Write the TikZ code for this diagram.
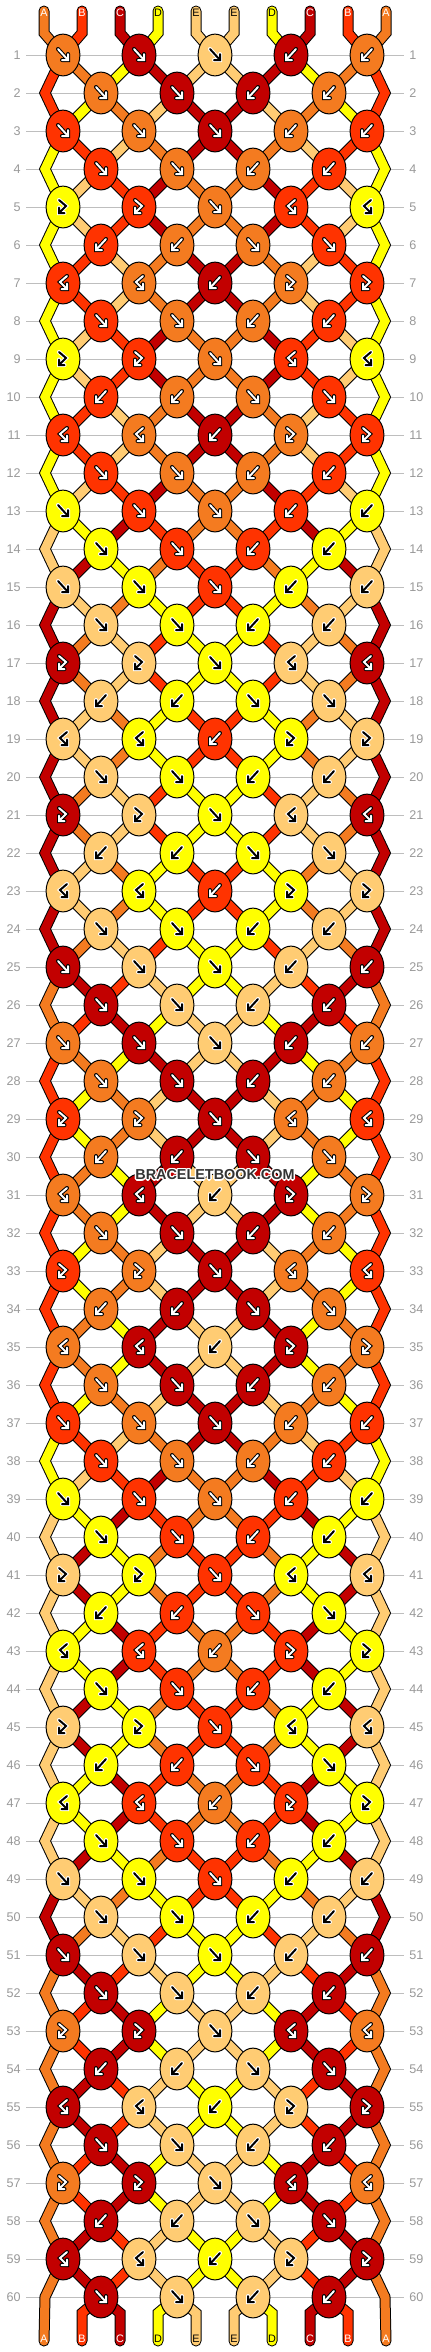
\documentclass[tikz,border=0pt]{standalone}
\usepackage{fontspec}
\setmainfont{Liberation Sans}
\usetikzlibrary{shapes.geometric}
\definecolor{cA}{HTML}{F47B20}
\definecolor{cB}{HTML}{FF3300}
\definecolor{cC}{HTML}{C20000}
\definecolor{cD}{HTML}{FFFF00}
\definecolor{cE}{HTML}{FFCC73}
\definecolor{numgray}{HTML}{999999}
\definecolor{linegray}{HTML}{BEBEBE}
\definecolor{wmark}{HTML}{333333}
% arrow colours per string
\expandafter\def\csname AC-A\endcsname{white}\expandafter\def\csname OC-A\endcsname{black}
\expandafter\def\csname AC-B\endcsname{white}\expandafter\def\csname OC-B\endcsname{black}
\expandafter\def\csname AC-C\endcsname{white}\expandafter\def\csname OC-C\endcsname{black}
\expandafter\def\csname AC-D\endcsname{black}\expandafter\def\csname OC-D\endcsname{white}
\expandafter\def\csname AC-E\endcsname{black}\expandafter\def\csname OC-E\endcsname{white}
% ---- simulation of the strings ----
\def\setS#1#2{\expandafter\xdef\csname s-#1\endcsname{#2}}
\def\getS#1{\csname s-#1\endcsname}
\def\setG#1#2{\expandafter\xdef\csname #1\endcsname{#2}}
\setS{1}{A}\setS{2}{B}\setS{3}{C}\setS{4}{D}\setS{5}{E}%
\setS{6}{E}\setS{7}{D}\setS{8}{C}\setS{9}{B}\setS{10}{A}%
\def\tf{f}\def\tb{b}\def\tfb{fb}\def\tbf{bf}
\def\defT#1#2#3{\expandafter\def\csname T-#1-#2\endcsname{#3}}
\defT{Fo}{1}{f}\defT{Fo}{2}{f}\defT{Fo}{3}{f}\defT{Fo}{4}{b}\defT{Fo}{5}{b}
\defT{Fe}{1}{f}\defT{Fe}{2}{f}\defT{Fe}{3}{b}\defT{Fe}{4}{b}
\defT{Q}{1}{fb}\defT{Q}{2}{fb}\defT{Q}{3}{f}\defT{Q}{4}{bf}\defT{Q}{5}{bf}
\defT{S}{1}{bf}\defT{S}{2}{bf}\defT{S}{3}{b}\defT{S}{4}{fb}\defT{S}{5}{fb}
\defT{R}{1}{b}\defT{R}{2}{b}\defT{R}{3}{f}\defT{R}{4}{f}
\def\doknot#1#2#3#4{%
  \edef\tL{\getS{#3}}\edef\tR{\getS{#4}}%
  \edef\tT{\csname T-\rcode-#2\endcsname}%
  \setG{KT-#1-#2}{\tT}%
  \ifx\tT\tf \setG{KC-#1-#2}{\tL}\setS{#3}{\tR}\setS{#4}{\tL}%
  \else\ifx\tT\tb \setG{KC-#1-#2}{\tR}\setS{#3}{\tR}\setS{#4}{\tL}%
  \else\ifx\tT\tfb \setG{KC-#1-#2}{\tL}%
  \else \setG{KC-#1-#2}{\tR}%
  \fi\fi\fi}
\def\rowcodes{Fo,Fe,Fo,Fe,Q,R,S,Fe,Q,R,S,Fe,Fo,Fe,Fo,Fe,Q,R,S,Fe,Q,R,S,Fe,Fo,Fe,Fo,Fe,Q,R,S,Fe,Q,R,S,Fe,Fo,Fe,Fo,Fe,Q,R,S,Fe,Q,R,S,Fe,Fo,Fe,Fo,Fe,Q,R,S,Fe,Q,R,S,Fe}
\newcount\simr \simr=0
\foreach \rcode in \rowcodes {%
  \global\advance\simr by 1
  \edef\rnum{\the\simr}%
  \foreach \p in {1,...,10}{\setG{SG-\rnum-\p}{\getS{\p}}}%
  \ifodd\simr
    \foreach \k in {1,...,5}{\pgfmathtruncatemacro\posL{2*\k-1}\pgfmathtruncatemacro\posR{2*\k}\doknot{\rnum}{\k}{\posL}{\posR}}%
  \else
    \foreach \k in {1,...,4}{\pgfmathtruncatemacro\posL{2*\k}\pgfmathtruncatemacro\posR{2*\k+1}\doknot{\rnum}{\k}{\posL}{\posR}}%
  \fi
}
\foreach \p in {1,...,10}{\setG{SG-61-\p}{\getS{\p}}}
% x of the point where position #2 sits in row #1
\def\ptx#1#2#3{%
  \ifodd#1\relax
    \pgfmathtruncatemacro#3{76*int((#2+1)/2)-13}%
  \else
    \ifnum#2=1 \def#3{45}%
    \else\ifnum#2=10 \def#3{385}%
    \else\pgfmathtruncatemacro#3{76*int(#2/2)+25}%
    \fi\fi
  \fi}
\newcommand\strand[2]{\draw[strO] #1;\draw[strI,draw=#2] #1;}
\def\icon#1{\draw[arrO,draw=\oc] #1; \draw[arrI,draw=\ac] #1;}
\def\AIf{\icon{(-5,-6)--(5,5) (5,-1)--(5,5)--(-1,5)}}
\def\AIb{\icon{(5,-6)--(-5,5) (-5,-1)--(-5,5)--(1,5)}}
\def\AIfb{\icon{(-4,-7)--(3,-1)--(-4,6) (-4,0.5)--(-4,6)--(1.5,6)}}
\def\AIbf{\icon{(4,-7)--(-3,-1)--(4,6) (4,0.5)--(4,6)--(-1.5,6)}}
\def\wmtext{BRACELETBOOK.COM}
\begin{document}
\begin{tikzpicture}[x=0.5pt,y=-0.5pt,
  strO/.style={draw=black,line width=5.5pt,line cap=round,line join=miter},
  strI/.style={line width=4.5pt,line cap=round,line join=miter},
  knotS/.style={ellipse,draw=black,line width=0.5pt,minimum width=16.9pt,minimum height=20.9pt,inner sep=0pt},
  rowlineS/.style={draw=linegray,line width=0.5pt},
  rownumS/.style={text=numgray,font=\fontsize{6.3pt}{7pt}\selectfont,inner sep=0pt},
  stubS/.style={font=\fontsize{5.4pt}{6pt}\selectfont,inner sep=0pt},
  arrO/.style={line width=2pt,line cap=round,line join=miter},
  arrI/.style={line width=1pt,line cap=round,line join=miter},
  wmS/.style={font=\bfseries\fontsize{7.2pt}{8pt}\selectfont,inner sep=0pt}]
\useasboundingbox (0,0) rectangle (430,2352);
\fill[white] (0,0) rectangle (430,2352);
% row guide lines and numbers
\foreach \ri in {1,...,60}{%
  \pgfmathtruncatemacro\yy{38*\ri+17}%
  \draw[rowlineS] (26,\yy) coordinate (L\ri) -- (404,\yy) coordinate (R\ri);
  \node[rownumS,anchor=east] (nl\ri) at (21,\yy) {\ri};
  \node[rownumS,anchor=west] (nr\ri) at (409,\yy) {\ri};
}
% top stubs
\foreach \p in {1,...,10}{%
  \pgfmathtruncatemacro\xs{38*\p+6}%
  \edef\scol{c\csname SG-1-\p\endcsname}%
  \ptx{1}{\p}{\xb}%
  \strand{(\xs,11) -- (\xs,33) -- (\xb,55)}{\scol}%
}
% strand segments
\foreach \ri in {2,...,60}{%
  \pgfmathtruncatemacro\rp{\ri-1}%
  \pgfmathtruncatemacro\rn{\ri+1}%
  \pgfmathtruncatemacro\ya{38*\rp+17}%
  \pgfmathtruncatemacro\yb{38*\ri+17}%
  \pgfmathtruncatemacro\yc{38*\rn+17}%
  \foreach \p in {1,...,10}{%
    \edef\scol{c\csname SG-\ri-\p\endcsname}%
    \ptx{\rp}{\p}{\xa}\ptx{\ri}{\p}{\xb}%
    \def\edge{0}\ifnum\p=1 \def\edge{1}\fi\ifnum\p=10 \def\edge{1}\fi
    \ifnum\edge=0
      \strand{(\xa,\ya) -- (\xb,\yb)}{\scol}%
    \else
      \ifodd\ri\relax\else
        \ifnum\ri<60
          \ptx{\rn}{\p}{\xc}%
          \strand{(\xa,\ya) -- (\xb,\yb) -- (\xc,\yc)}{\scol}%
        \else
          \pgfmathtruncatemacro\xs{38*\p+6}%
          \strand{(\xa,\ya) -- (\xb,\yb) -- (\xs,2341)}{\scol}%
        \fi
      \fi
    \fi
  }%
}
% bottom stubs
\foreach \p in {2,...,9}{%
  \pgfmathtruncatemacro\xs{38*\p+6}%
  \edef\scol{c\csname SG-61-\p\endcsname}%
  \ptx{60}{\p}{\xa}%
  \strand{(\xa,2297) -- (\xs,2313) -- (\xs,2341)}{\scol}%
}
% knots
\foreach \ri in {1,...,60}{%
  \ifodd\ri\relax\def\nk{5}\else\def\nk{4}\fi
  \pgfmathtruncatemacro\ky{38*\ri+17}%
  \foreach \k in {1,...,\nk}{%
    \edef\kc{\csname KC-\ri-\k\endcsname}%
    \edef\kt{\csname KT-\ri-\k\endcsname}%
    \edef\kfill{c\kc}%
    \edef\ac{\csname AC-\kc\endcsname}\edef\oc{\csname OC-\kc\endcsname}%
    \ifodd\ri\relax\pgfmathtruncatemacro\kx{76*\k-13}\else\pgfmathtruncatemacro\kx{76*\k+25}\fi
    \node[knotS,fill=\kfill] (k\ri-\k) at (\kx,\ky) {};
    \begin{scope}[shift={(k\ri-\k.center)}]\csname AI\kt\endcsname\end{scope}
  }%
}
% stub labels
\foreach \p in {1,...,10}{%
  \pgfmathtruncatemacro\xs{38*\p+6}%
  \edef\ct{\csname SG-1-\p\endcsname}\edef\tc{\csname AC-\ct\endcsname}%
  \node[stubS,text=\tc] (top\p) at (\xs,13) {\ct};
  \edef\cb{\csname SG-61-\p\endcsname}\edef\tcb{\csname AC-\cb\endcsname}%
  \node[stubS,text=\tcb] (bot\p) at (\xs,2339) {\cb};
}
% watermark with white halo
\foreach \dx/\dy in {-1.5/0,1.5/0,0/-1.5,0/1.5,-1/-1,1/-1,-1/1,1/1}{%
  \node[wmS,text=white] at (215+\dx,1175+\dy) {\wmtext};
}
\node[wmS,text=wmark] (wm) at (215,1175) {\wmtext};
\end{tikzpicture}
\end{document}
